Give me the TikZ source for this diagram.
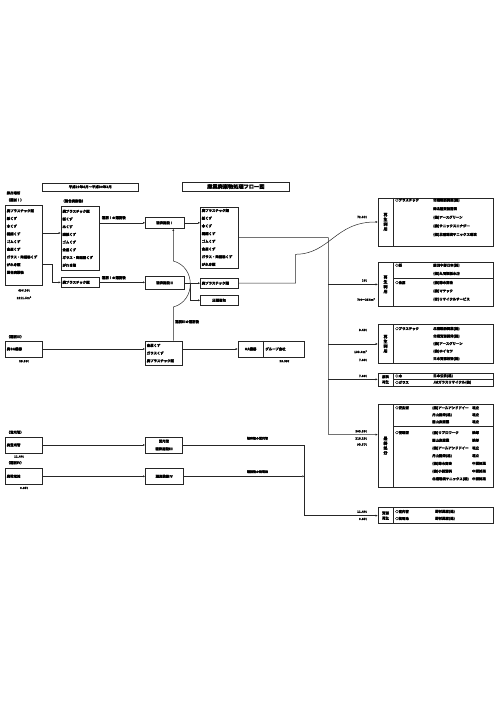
\documentclass[tikz,border=0pt]{standalone}
\usepackage{fontspec}
\setmainfont{Noto Sans CJK JP}[FakeBold=1.6]
\usepackage{tikz}
\usetikzlibrary{positioning,arrows.meta}

\begin{document}
\begin{tikzpicture}[
  x=1pt, y=-1pt,
  font=\fontsize{3.4}{7.7}\selectfont\bfseries,
  box/.style={draw=black!85, line width=0.6pt, inner sep=0pt, anchor=north west},
  lst/.style={box, align=left, inner xsep=1.5pt, inner ysep=0pt},
  col/.style={inner sep=0pt, anchor=north west, align=left},
  txt/.style={inner sep=0pt, anchor=west},
  wt/.style={inner sep=0pt, font=\fontsize{3}{3.6}\selectfont\bfseries},
  vlab/.style={inner sep=0pt, align=center, font=\fontsize{4}{4.8}\selectfont\bfseries},
  conn/.style={line width=0.5pt, draw=black!85},
  arr/.style={conn, -{Triangle[length=2pt,width=1.8pt]}},
]
\useasboundingbox (0,0) rectangle (500,706);

% header
\node[box, minimum width=96, minimum height=8] (period) at (42,182.5) {平成29年4月～平成30年3月};
\node[box, minimum width=107, minimum height=8.5, font=\fontsize{5.2}{6}\selectfont\bfseries] (title) at (182,182) {産業廃棄物処理フロー図};

% sources
\node[txt] (lblsrc) at (6.5,193) {排出場所};
\node[txt] (lblsel1) at (6.5,200) {（選別Ⅰ）};
\node[lst, text width=34.3, minimum height=80] (src1) at (5,205) {廃プラスチック類\\紙くず\\木くず\\繊維くず\\ゴムくず\\金属くず\\ガラス・陶磁器くず\\がれき類\\混合廃棄物\\\mbox{}};
\node[wt, below=3.5pt of src1] (w1) {696.30t};
\node[wt, below=4.5pt of w1] (w2) {2211.5m³};

\node[txt] (lblmix) at (61.2,201) {（混合廃棄物）};
\node[lst, text width=35.6, minimum height=64] (mix) at (60.7,206) {廃プラスチック類\\紙くず\\木くず\\繊維くず\\ゴムくず\\金属くず\\ガラス・陶磁器くず\\がれき類};
\node[lst, text width=35.6, minimum height=10.5] (plast) at (60.7,276.8) {廃プラスチック類};

\draw[arr] (src1.east |- 0,233) -- (mix.west |- 0,233);
\draw[arr] (src1.east |- 0,264.3) -- ++(9.4,0) |- (plast.west);

% crushing
\node[box, minimum width=39, minimum height=11.6] (crush1) at (145,216.7) {破砕施設Ⅰ};
\node[box, minimum width=39, minimum height=13] (crush2) at (145,276) {破砕施設Ⅱ};
\node[txt] (lblc1) at (101.7,217.7) {選別Ⅰの選別後};
\node[txt] (lblc2) at (101.7,277.7) {選別Ⅰの選別後};
\draw[arr] (mix.east |- crush1) -- (crush1.west);
\draw[arr] (plast.east) -- (crush2.west |- plast.east);

\node[lst, text width=34.7, minimum height=61] (out1) at (200,206.7) {廃プラスチック類\\紙くず\\木くず\\繊維くず\\ゴムくず\\金属くず\\ガラス・陶磁器くず\\がれき類};
\node[lst, text width=34.7, minimum height=10.8] (out2) at (200,277.5) {廃プラスチック類};
\node[box, minimum width=37.7, minimum height=10] (pack) at (200,295) {圧縮梱包};
\draw[arr] (crush1.east) -- (crush1.east -| out1.west);
\draw[arr] (crush2.east |- out2) -- (out2.west);
\draw[arr] (crush2.east |- out2) ++(6,0) |- (pack.west);

% OA
\node[txt] (lblsel3) at (6.5,336.7) {（選別Ⅲ）};
\node[lst, text width=34.3, minimum height=16] (oa) at (5,340.7) {廃OA機器};
\node[wt, below=2.5pt of oa] (w3) {25.95t};
\node[lst, text width=34.3, minimum height=24.3] (oaout) at (145,340.7) {金属くず\\ガラスくず\\廃プラスチック類};
\node[box, minimum width=66.6, minimum height=16] (grp) at (237.7,340.7) {};
\draw[conn] ([xshift=25.6pt]grp.north west) -- ([xshift=25.6pt]grp.south west);
\node (grpa) at ([xshift=12.8pt]grp.west) {OA機器};
\node[txt] (grpb) at ([xshift=27.5pt]grp.west) {グループ会社};
\node[wt, below=2.5pt of grp, xshift=13pt] (w4) {25.95t};
\draw[arr] (oa) -- (oaout.west |- oa);
\draw[arr] (oaout.east |- grp) -- (grp.west);
\coordinate (hop) at (173.3,307);
\draw[arr] (oaout.north -| hop) -- (hop) .. controls (196,301) and (196,267) .. (173.3,261) -- (crush1.south -| hop);
\node[txt] (lblc3) at (175,321.7) {選別Ⅲの選別後};

% lamps and batteries
\node[txt] (lbllamp) at (6.5,432.3) {（蛍光管）};
\node[lst, text width=34.3, minimum height=16] (lamp) at (5,436.7) {廃蛍光管};
\node[wt, below=2pt of lamp, xshift=-5pt] (w5) {11.44t};
\node[txt] (lblsel4) at (6.5,462.7) {（選別Ⅳ）};
\node[lst, text width=34.3, minimum height=16] (batt) at (5,468) {廃乾電池};
\node[wt, below=2pt of batt] (w6) {0.85t};
\node[box, align=center, minimum width=37.3, minimum height=16] (lampcr) at (145,436.7) {蛍光管\\破砕施設Ⅲ};
\node[box, minimum width=37.7, minimum height=16] (battsel) at (145,468) {選別施設Ⅳ};
\draw[arr] (lamp) -- (lampcr);
\draw[arr] (batt) -- (battsel);
\node[wt] (lbll) at (257.5,438.3) {破砕後の蛍光管};
\node[wt] (lblb) at (257.5,471.7) {選別後の乾電池};

% destinations
\node[box, minimum width=115.6, minimum height=48] (rec1) at (377.7,197.7) {};
\draw[conn] ([xshift=15.6pt]rec1.north west) -- ([xshift=15.6pt]rec1.south west);
\node[vlab] at ([xshift=7.8pt]rec1.west) {再\\生\\利\\用};
\node[col] at (395,198.3) {○プラスチック};
\node[col, font=\fontsize{3.4}{8.6}\selectfont\bfseries] at (433,198.3) {北陸製紙興業(株)\\㈱北陸資源開発\\(株)アースグリーン\\(株)サニックスエナジー\\(株)北陸環境サニックス環境};
\node[wt, anchor=east] at (367,217) {72.31t};

\node[box, minimum width=115.6, minimum height=43.7] (rec2) at (377.7,262.3) {};
\draw[conn] ([xshift=15.6pt]rec2.north west) -- ([xshift=15.6pt]rec2.south west);
\draw[conn] ([xshift=15.6pt,yshift=-16pt]rec2.north west) -- ([yshift=-16pt]rec2.north east);
\node[vlab] at ([xshift=7.8pt]rec2.west) {再\\生\\利\\用};
\node[col] at (395,263.4) {○紙};
\node[col, font=\fontsize{3.4}{8.3}\selectfont\bfseries] at (433,263.4) {前田中部日本(株)\\(株)丸川製紙本店};
\node[col] at (395,280.8) {○金属};
\node[col, font=\fontsize{3.4}{8.3}\selectfont\bfseries] at (433,280.8) {(株)鈴木商会\\(株)マテック\\(有)リサイクルサービス};
\node[wt, anchor=east] at (367,280.5) {16t};
\node[wt, anchor=east] at (375,299.5) {70t～354m³};

\node[box, minimum width=115.6, minimum height=39.3] (rec3) at (377.7,324) {};
\draw[conn] ([xshift=15.6pt]rec3.north west) -- ([xshift=15.6pt]rec3.south west);
\node[vlab] at ([xshift=7.8pt]rec3.west) {再\\生\\利\\用};
\node[col] at (395,326.8) {○プラスチック};
\node[col, font=\fontsize{3.4}{7.5}\selectfont\bfseries] at (433,326.8) {北陸製紙興業(株)\\北陸資源開発(株)\\(株)アースグリーン\\(株)ホイセツ\\日本資源技術(株)};
\node[wt, anchor=east] at (367,330) {3.43t};
\node[wt, anchor=east] at (367,351.7) {133.0m³};
\node[wt, anchor=east] at (367,360) {7.83t};

\node[box, minimum width=115.6, minimum height=12.8] (rec4) at (377.7,372.7) {};
\draw[conn] ([xshift=15.6pt]rec4.north west) -- ([xshift=15.6pt]rec4.south west);
\draw[conn] ([xshift=15.6pt]rec4.west) -- (rec4.east);
\node[vlab, font=\fontsize{3.4}{5.2}\selectfont\bfseries] at ([xshift=7.8pt]rec4.west) {原料\\再生};
\node[txt] at (395,376) {○木};
\node[txt] at (433,376) {日本公防(株)};
\node[txt] at (395,382.4) {○ガラス};
\node[txt] at (433,382.4) {JMガラスリサイクル(株)};
\node[wt, anchor=east] at (367,376) {7.88t};

\node[box, minimum width=115.6, minimum height=83] (rec5) at (377.7,404) {};
\draw[conn] ([xshift=15.6pt]rec5.north west) -- ([xshift=15.6pt]rec5.south west);
\draw[conn] ([xshift=15.6pt,yshift=-22.5pt]rec5.north west) -- ([yshift=-22.5pt]rec5.north east);
\node[vlab] at ([xshift=7.8pt]rec5.west) {最\\終\\処\\分};
\node[col] at (395,406) {○安定型};
\node[col, font=\fontsize{3.4}{7}\selectfont\bfseries] at (432,406) {(株)アールアンドドイー\\丹山開発(株)\\国山炭産業};
\node[col, font=\fontsize{3.4}{7}\selectfont\bfseries] at (472,406) {埋立\\埋立\\埋立};
\node[col] at (395,430.8) {○管理型};
\node[col] at (432,430.8) {(株)リプロワーク\\国山炭産業\\(株)アールアンドドイー\\丹山開発(株)\\(株)鈴木商会\\(株)小松消耗\\北陸環境サニックス(株)};
\node[col] at (472,430.8) {焼却\\焼却\\埋立\\埋立\\中間処理\\中間処理\\中間処理};
\node[wt, anchor=east] at (367,431.3) {103.59t};
\node[wt, anchor=east] at (367,438.5) {218.23t};
\node[wt, anchor=east] at (367,444.5) {93.57t};

\node[box, minimum width=115.6, minimum height=16] (rec6) at (377.7,507.3) {};
\draw[conn] ([xshift=15.6pt]rec6.north west) -- ([xshift=15.6pt]rec6.south west);
\node[vlab, font=\fontsize{3.4}{5.2}\selectfont\bfseries] at ([xshift=7.8pt]rec6.west) {資源\\再生};
\node[txt] at (395,511.6) {○蛍光管};
\node[txt] at (435,511.6) {野村興産(株)};
\node[txt] at (395,518.6) {○乾電池};
\node[txt] at (435,518.6) {野村興産(株)};
\node[wt, anchor=east] at (367,511.7) {11.44t};
\node[wt, anchor=east] at (367,519) {0.85t};

% trunk and branches
\coordinate (trunk) at (328.3,0);
\coordinate (drop) at (304.3,0);
\draw[arr] (out1.east) -| (trunk |- 0,434.3) -- ([yshift=11.2pt]rec5.west);
\draw[arr] (trunk |- rec2.west) -- (rec2.west);
\draw[arr] (trunk |- rec3.west) -- (rec3.west);
\draw[arr] (trunk |- rec4.west) -- (rec4.west);
\draw[arr] (out2.east) -- ++(57.3,0) -- ++(0,-28.9) .. controls (330,254) and (335,221.7) .. (rec1.west);
\draw[arr] (lampcr.east) -| (drop |- rec6.west) -- (rec6.west);
\draw[arr] (battsel.east) -- (battsel.east -| drop);
\end{tikzpicture}
\end{document}
